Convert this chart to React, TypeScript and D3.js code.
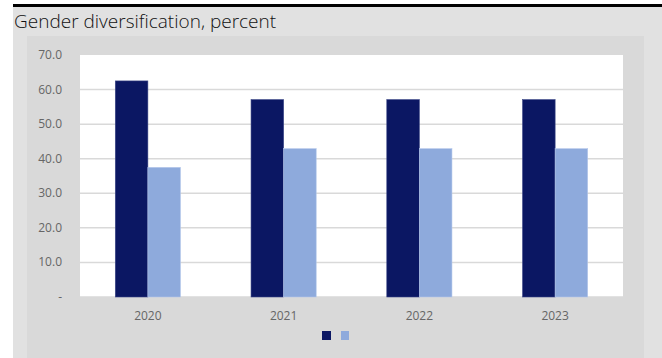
import React from "react";
import * as d3 from "d3";

const years = ["2020", "2021", "2022", "2023"];
const seriesA = [62.5, 57.1, 57.1, 57.1];
const seriesB = [37.5, 42.9, 42.9, 42.9];
const yTicks = [0, 10, 20, 30, 40, 50, 60, 70];

const W = 662;
const H = 358;
const plot = { left: 80, right: 623, top: 55, bottom: 297 };
const darkColor = "#0b1763";
const lightColor = "#8eaadc";
const font = "'Open Sans', 'Noto Sans', sans-serif";

export default function App() {
  const x = d3.scaleBand<string>().domain(years).range([plot.left, plot.right]).paddingInner(0).paddingOuter(0);
  const y = d3.scaleLinear().domain([0, 70]).range([plot.bottom, plot.top]);
  const barW = x.bandwidth() * 0.24;
  const fmt = (v: number) => (v === 0 ? "-" : d3.format(".1f")(v));

  return (
    <svg width={W} height={H} style={{ position: "absolute", left: 0, top: 0 }}>
      <rect x={0} y={0} width={W} height={H} fill="#ffffff" />
      <rect x={13} y={6} width={W - 13} height={H - 6} fill="#e1e1e1" />
      <rect x={13} y={4} width={W - 13} height={3} fill="#000000" />
      <text x={14} y={28} fontFamily={font} fontSize={19} fontWeight={300} fill="#111">
        Gender diversification, percent
      </text>
      <rect x={27} y={36} width={644 - 27} height={H - 36} fill="#d9d9d9" />
      <rect x={plot.left} y={plot.top} width={plot.right - plot.left} height={plot.bottom - plot.top} fill="#ffffff" />
      {yTicks.map((t) => (
        <g key={t}>
          {t > 0 && t < 70 && (
            <line x1={plot.left} x2={plot.right} y1={y(t)} y2={y(t)} stroke="#d9d9d9" strokeWidth={1.5} />
          )}
          <text x={62} y={y(t) + 4} textAnchor="end" fontFamily={font} fontSize={12} fill="#666">
            {fmt(t)}
          </text>
        </g>
      ))}
      <line x1={plot.left} x2={plot.right} y1={plot.bottom} y2={plot.bottom} stroke="#d9d9d9" strokeWidth={1.5} />
      {years.map((yr, i) => {
        const c = (x(yr) as number) + x.bandwidth() / 2;
        return (
          <g key={yr}>
            <rect x={c - barW} y={y(seriesA[i])} width={barW} height={y(0) - y(seriesA[i])} fill={darkColor} stroke="#3a4585" strokeWidth={0.6} />
            <rect x={c} y={y(seriesB[i])} width={barW} height={y(0) - y(seriesB[i])} fill={lightColor} stroke="#b5c7ea" strokeWidth={0.6} />
            <text x={c} y={320} textAnchor="middle" fontFamily={font} fontSize={12} fill="#666">
              {yr}
            </text>
          </g>
        );
      })}
      <rect x={322} y={331} width={9} height={9} fill={darkColor} />
      <rect x={341} y={331} width={8} height={9} fill={lightColor} />
    </svg>
  );
}
